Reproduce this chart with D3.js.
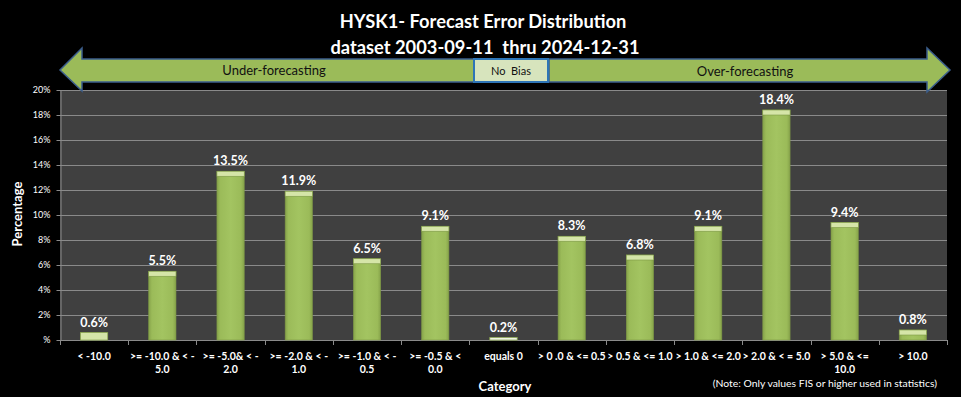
<!DOCTYPE html>
<html><head><meta charset="utf-8">
<script src="https://cdn.jsdelivr.net/npm/d3@7"></script>
<style>
html,body{margin:0;padding:0;background:#000;}
svg{display:block;}
text{font-family:Lato, "Open Sans", sans-serif;}
</style></head>
<body>
<svg id="chart" width="961" height="397"></svg>
<script>
const categories = ["< -10.0", ">= -10.0 & < -|5.0", ">= -5.0& < -|2.0", ">= -2.0 & < -|1.0", ">= -1.0 & < -|0.5", ">= -0.5 & <|0.0", "equals 0", "> 0 .0 & <= 0.5", "> 0.5 & <= 1.0", "> 1.0 & <= 2.0", "> 2.0 & < = 5.0", "> 5.0 & <=|10.0", "> 10.0"];
const values = [0.6, 5.5, 13.5, 11.9, 6.5, 9.1, 0.2, 8.3, 6.8, 9.1, 18.4, 9.4, 0.8];
const valueLabels = ["0.6%", "5.5%", "13.5%", "11.9%", "6.5%", "9.1%", "0.2%", "8.3%", "6.8%", "9.1%", "18.4%", "9.4%", "0.8%"];
const yTicks = [0, 2, 4, 6, 8, 10, 12, 14, 16, 18, 20];
const titleLines = ["HYSK1- Forecast Error Distribution", "dataset 2003-09-11  thru 2024-12-31"];
const yTitle = "Percentage";
const xTitle = "Category";
const note = "(Note: Only values FIS or higher used in statistics)";
const arrowLabels = ["Under-forecasting", "No  Bias", "Over-forecasting"];

const svg = d3.select("#chart");
const W = 961, H = 397;
const plot = {l: 60, r: 947, t: 90, b: 340};

svg.append("rect").attr("width", W).attr("height", H).attr("fill", "#000");

const x = d3.scaleBand().domain(categories).range([plot.l, plot.r]).paddingInner(0.6).paddingOuter(0.3);
const y = d3.scaleLinear().domain([0, 20]).range([plot.b, plot.t]);

// defs
const defs = svg.append("defs");
const g1 = defs.append("linearGradient").attr("id", "barGrad").attr("x1", "0").attr("x2", "1").attr("y1", "0").attr("y2", "0");
g1.append("stop").attr("offset", "0").attr("stop-color", "#86a34a");
g1.append("stop").attr("offset", "0.12").attr("stop-color", "#9bbb59");
g1.append("stop").attr("offset", "0.5").attr("stop-color", "#a3c461");
g1.append("stop").attr("offset", "0.88").attr("stop-color", "#9bbb59");
g1.append("stop").attr("offset", "1").attr("stop-color", "#86a34a");

// plot background
svg.append("rect").attr("x", plot.l).attr("y", plot.t).attr("width", plot.r - plot.l).attr("height", plot.b - plot.t).attr("fill", "#404040");

// gridlines
svg.append("g").selectAll("line").data(yTicks.filter(d => d > 0)).join("line")
  .attr("x1", plot.l).attr("x2", plot.r).attr("y1", d => y(d) + 0.5).attr("y2", d => y(d) + 0.5)
  .attr("stroke", "#8a8a8a").attr("stroke-width", 1);

// y axis
const yAxis = d3.axisLeft(y).tickValues(yTicks).tickFormat(d => d === 0 ? "%" : d + "%").tickSize(4).tickSizeOuter(0).tickPadding(6);
const ya = svg.append("g").attr("transform", `translate(${plot.l + 0.5},0)`).call(yAxis);
ya.select(".domain").attr("stroke", "#8a8a8a");
ya.selectAll(".tick line").attr("stroke", "#8a8a8a");
ya.selectAll("text").attr("fill", "#fff").attr("font-size", 9).attr("font-family", "Lato, sans-serif");

// x axis baseline & ticks at band boundaries
const step = x.step();
const bounds = d3.range(categories.length + 1).map(i => plot.l + i * step);
svg.append("line").attr("x1", plot.l).attr("x2", plot.r).attr("y1", plot.b + 0.5).attr("y2", plot.b + 0.5).attr("stroke", "#8a8a8a");
svg.append("g").selectAll("line").data(bounds).join("line")
  .attr("x1", d => Math.round(d) + 0.5).attr("x2", d => Math.round(d) + 0.5)
  .attr("y1", plot.b).attr("y2", plot.b + 5).attr("stroke", "#8a8a8a");

// x labels
const xl = svg.append("g").selectAll("text").data(categories).join("text")
  .attr("x", d => x(d) + x.bandwidth() / 2).attr("y", plot.b + 19.5)
  .attr("text-anchor", "middle").attr("fill", "#fff").attr("font-size", 10.5).attr("font-weight", "bold");
xl.each(function(d) {
  const parts = d.split("|");
  d3.select(this).selectAll("tspan").data(parts).join("tspan")
    .attr("x", x(d) + x.bandwidth() / 2).attr("dy", (p, i) => i === 0 ? 0 : 13.5).text(p => p);
});

// bars
const bars = svg.append("g");
categories.forEach((c, i) => {
  const v = values[i];
  const bx = x(c), bw = x.bandwidth();
  const top = y(v), h = plot.b - top;
  bars.append("rect").attr("x", bx).attr("y", top).attr("width", bw).attr("height", h)
    .attr("fill", "url(#barGrad)").attr("stroke", "#7d9845").attr("stroke-width", 0.6);
  const capH = h < 9 ? h : 5;
  bars.append("rect").attr("x", bx).attr("y", top).attr("width", bw).attr("height", capH)
    .attr("fill", v < 0.5 ? "#eef3e2" : "#d5e5a8").attr("stroke", "#7d9845").attr("stroke-width", 0.6);
  svg.append("text").attr("x", bx + bw / 2).attr("y", top - 6)
    .attr("text-anchor", "middle").attr("fill", "#fff").attr("font-size", 12.5).attr("font-weight", "bold")
    .text(valueLabels[i]);
});

// titles
svg.append("text").attr("x", 483).attr("y", 28).attr("text-anchor", "middle").attr("fill", "#fff")
  .attr("font-size", 18.3).attr("font-weight", "bold").text(titleLines[0]);
svg.append("text").attr("x", 485).attr("y", 54).attr("text-anchor", "middle").attr("fill", "#fff")
  .attr("font-size", 18.3).attr("font-weight", "bold").style("white-space", "pre").text(titleLines[1]);

// y title
svg.append("text").attr("transform", "translate(22,214) rotate(-90)").attr("text-anchor", "middle")
  .attr("fill", "#fff").attr("font-size", 13).attr("font-weight", "bold").text(yTitle);

// x title
svg.append("text").attr("x", 505).attr("y", 391).attr("text-anchor", "middle")
  .attr("fill", "#fff").attr("font-size", 13).attr("font-weight", "bold").text(xTitle);

// note
svg.append("text").attr("x", 937).attr("y", 387).attr("text-anchor", "end")
  .attr("fill", "#fff").attr("font-size", 10.4).text(note);

// arrows
const arrowFill = "#9bbb59", arrowStroke = "#3b5e8c";
const leftArrow = [[473, 59], [82, 59], [82, 48], [60, 70], [82, 91], [82, 82], [473, 82]];
svg.append("path").attr("d", d3.line()(leftArrow)).attr("fill", arrowFill).attr("stroke", arrowStroke).attr("stroke-width", 1.5);
const rightArrow = [[549, 59], [927, 59], [927, 48], [950, 70], [927, 92], [927, 82], [549, 82]];
svg.append("path").attr("d", d3.line()(rightArrow) + "Z").attr("fill", arrowFill).attr("stroke", arrowStroke).attr("stroke-width", 1.5);
svg.append("rect").attr("x", 474).attr("y", 59).attr("width", 74).attr("height", 23)
  .attr("fill", "#d7e4bd").attr("stroke", "#2e75b6").attr("stroke-width", 2);

svg.append("text").attr("x", 274).attr("y", 75).attr("text-anchor", "middle").attr("fill", "#111").attr("font-size", 13).text(arrowLabels[0]);
svg.append("text").attr("x", 511).attr("y", 75).attr("text-anchor", "middle").attr("fill", "#111").attr("font-size", 11)
  .style("white-space", "pre").text(arrowLabels[1]);
svg.append("text").attr("x", 745).attr("y", 76).attr("text-anchor", "middle").attr("fill", "#111").attr("font-size", 13).text(arrowLabels[2]);
</script>
</body></html>
